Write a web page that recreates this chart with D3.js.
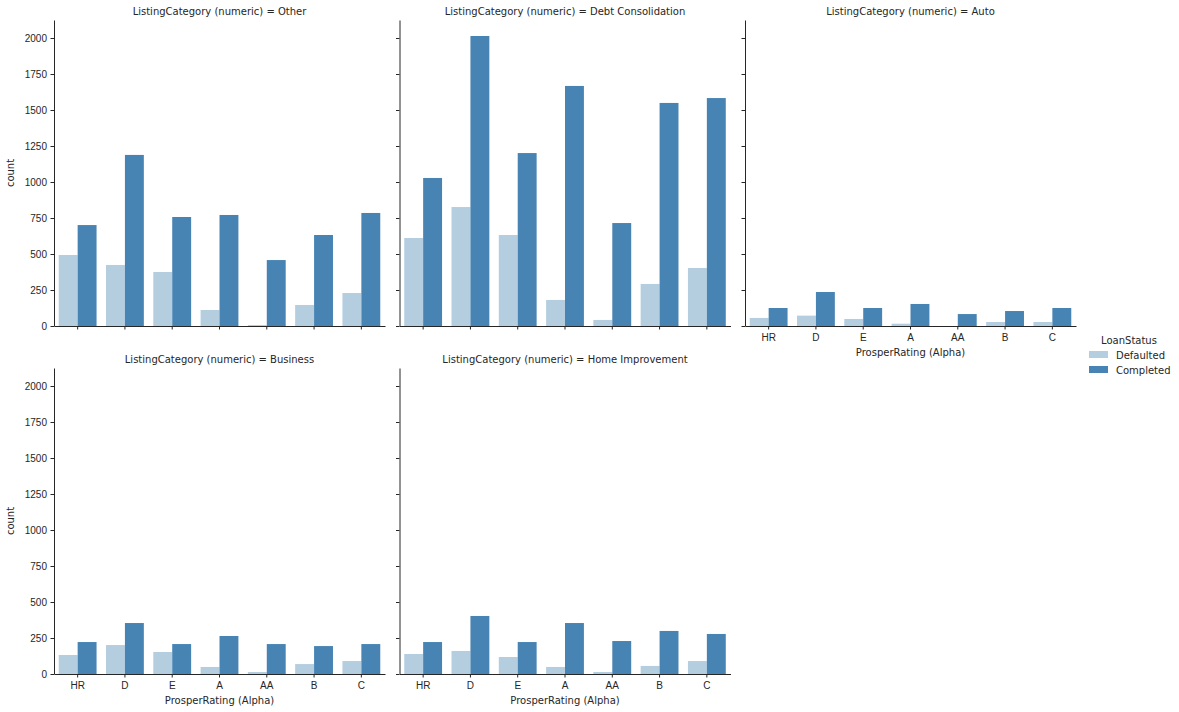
<!DOCTYPE html>
<html>
<head>
<meta charset="utf-8">
<script src="https://cdn.jsdelivr.net/npm/d3@7"></script>
<style>
  body { margin: 0; background: #fff; }
  svg { font-family: "DejaVu Sans", sans-serif; }
  .tick text { font-size: 10px; fill: #262626; }
  .domain, .tick line { stroke: #262626; }
</style>
</head>
<body>
<div id="chart"></div>
<script>
// ratings in plotting order
var ratings = ["HR", "D", "E", "A", "AA", "B", "C"];
var statuses = ["Defaulted", "Completed"];
var colors = ["#b4cee0", "#4884b3"];
var yTicks = [0, 250, 500, 750, 1000, 1250, 1500, 1750, 2000];

var categories = ["Other", "Debt Consolidation", "Auto", "Business", "Home Improvement"];

// counts per category, same order as ratings
var defaulted = {
    "Other":              [493, 424, 375, 111, 7, 146, 229],
    "Debt Consolidation": [611, 826, 632, 181, 42, 292, 403],
    "Auto":               [56, 72, 49, 16, 0, 28, 28],
    "Business":           [132, 201, 153, 49, 14, 69, 90],
    "Home Improvement":   [139, 160, 118, 49, 14, 56, 90]
};
var completed = {
    "Other":              [701, 1188, 757, 771, 458, 632, 785],
    "Debt Consolidation": [1028, 2014, 1201, 1667, 715, 1549, 1583],
    "Auto":               [125, 236, 125, 153, 83, 104, 125],
    "Business":           [222, 354, 208, 264, 208, 194, 208],
    "Home Improvement":   [222, 403, 222, 354, 229, 299, 278]
};

var W = 1179, H = 712;
var pw = 331, ph = 306;
var lefts = [54, 399.5, 745];
var tops = [20, 368];

var svg = d3.select('#chart').append('svg')
    .attr('width', W).attr('height', H);

var x = d3.scaleBand().domain(ratings).range([0, pw]);
var y = d3.scaleLinear().domain([0, 2125]).range([ph, 0]);

categories.forEach(function(cat, i) {
    var row = i < 3 ? 0 : 1;
    var col = i < 3 ? i : i - 3;
    var g = svg.append('g')
        .attr('transform', 'translate(' + lefts[col] + ',' + tops[row] + ')');

    var bw = x.bandwidth() * 0.8 / 2;
    var off = x.bandwidth() * 0.1;
    var rows = ratings.map(function(r, k) {
        return { r: r, v: [defaulted[cat][k], completed[cat][k]] };
    });

    statuses.forEach(function(s, si) {
        g.selectAll('rect.s' + si)
            .data(rows)
            .enter().append('rect')
            .attr('class', 's' + si)
            .attr('x', function(d) { return x(d.r) + off + si * bw; })
            .attr('width', bw)
            .attr('y', function(d) { return y(d.v[si]); })
            .attr('height', function(d) { return ph - y(d.v[si]); })
            .attr('fill', colors[si]);
    });

    // x axis: labels only on the bottom of each column
    var showX = (row === 1) || (col === 2);
    var xa = d3.axisBottom(x).tickSize(3.5).tickSizeOuter(0).tickPadding(4);
    if (!showX) xa.tickFormat('');
    g.append('g').attr('transform', 'translate(0,' + ph + ')').call(xa);

    var ya = d3.axisLeft(y).tickValues(yTicks).tickSize(3.5).tickSizeOuter(0)
        .tickPadding(3.5).tickFormat(d3.format('d'));
    if (col !== 0) ya.tickFormat('');
    g.append('g').call(ya);
    g.selectAll('.domain').attr('stroke-width', 1);

    g.append('text')
        .attr('x', pw / 2).attr('y', -5)
        .attr('text-anchor', 'middle')
        .attr('font-size', 10).attr('fill', '#262626')
        .text('ListingCategory (numeric) = ' + cat);

    if (showX) {
        g.append('text')
            .attr('x', pw / 2).attr('y', ph + 30)
            .attr('text-anchor', 'middle')
            .attr('font-size', 10).attr('fill', '#262626')
            .text('ProsperRating (Alpha)');
    }
    if (col === 0) {
        g.append('text')
            .attr('transform', 'translate(-40,' + (ph / 2) + ') rotate(-90)')
            .attr('text-anchor', 'middle')
            .attr('font-size', 10).attr('fill', '#262626')
            .text('count');
    }
});

// legend
var lg = svg.append('g').attr('transform', 'translate(1089,340)');
lg.append('text')
    .attr('x', 40).attr('y', 4)
    .attr('text-anchor', 'middle')
    .attr('font-size', 10).attr('fill', '#262626')
    .text('LoanStatus');
statuses.forEach(function(s, si) {
    lg.append('rect')
        .attr('x', 0).attr('y', 11 + si * 15)
        .attr('width', 19).attr('height', 7)
        .attr('fill', colors[si]);
    lg.append('text')
        .attr('x', 27).attr('y', 19 + si * 15)
        .attr('font-size', 10).attr('fill', '#262626')
        .text(s);
});
</script>
</body>
</html>
